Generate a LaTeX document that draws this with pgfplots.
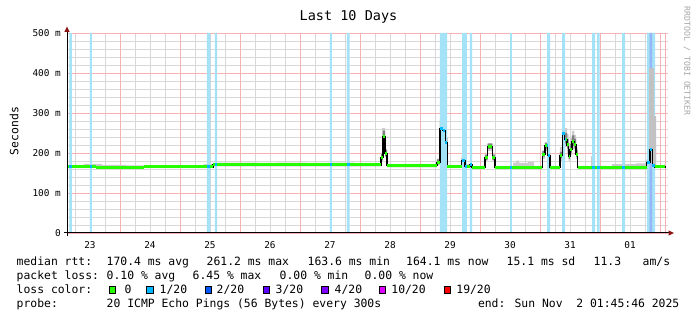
\documentclass[border=0pt]{standalone}
\usepackage{fontspec}
\setmainfont{DejaVu Sans Mono}
\usepackage{pgfplots}
\pgfplotsset{compat=1.18}
\usepgfplotslibrary{fillbetween}
\definecolor{band}{RGB}{164,226,248}
\definecolor{bandtwo}{RGB}{150,180,246}
\definecolor{gridminor}{RGB}{216,216,216}
\definecolor{gridmajor}{RGB}{244,178,178}
\definecolor{lossA}{RGB}{38,255,0}
\definecolor{lossB}{RGB}{0,184,255}
\definecolor{lossC}{RGB}{0,89,255}
\definecolor{lossD}{RGB}{94,0,255}
\definecolor{lossE}{RGB}{126,0,255}
\definecolor{lossF}{RGB}{221,0,255}
\definecolor{lossG}{RGB}{255,0,0}
\definecolor{arrowred}{RGB}{140,20,20}
\begin{document}
\begin{tikzpicture}[x=1pt,y=1pt,
  lg/.style={anchor=base west, inner sep=0pt, font=\fontsize{11.4}{13}\selectfont}]
\path (0,0) rectangle (697,321);
\begin{axis}[
  at={(67pt,88pt)}, anchor=south west,
  scale only axis, width=601pt, height=200pt,
  xmin=22.617, xmax=32.633, ymin=0, ymax=500,
  axis line style={draw=none},
  major tick length=0pt, minor tick length=0pt,
  xtick={23,24,25,26,27,28,29,30,31,32},
  xticklabels={23,24,25,26,27,28,29,30,31,01},
  minor xtick={22.75,23,...,32.5},
  extra x ticks={23.5,24.5,25.5,26.5,27.5,28.5,29.5,30.5,31.5,32.5,32.583},
  extra x tick labels={},
  extra x tick style={grid=major},
  xmajorgrids=false, xminorgrids=true,
  ytick={0,100,200,300,400,500},
  yticklabels={0,100 m,200 m,300 m,400 m,500 m},
  minor ytick={20,40,...,480},
  ymajorgrids=true, yminorgrids=true,
  major grid style={gridmajor, line width=0.85pt},
  minor grid style={gridminor, line width=0.85pt},
  tick label style={font=\fontsize{9.4}{11}\selectfont},
  yticklabel style={anchor=east, inner sep=0pt, xshift=-6pt},
  xticklabel style={anchor=north, inner sep=0pt, yshift=-8.7pt},
]
% loss bands
\addplot[const plot mark left, fill=band, draw=none] coordinates {
(22.617,0)(22.658,500)(22.70,0)(23.0,500)(23.033,0)(24.95,500)(25.008,0)(25.083,500)(25.117,0)
(27.0,500)(27.033,0)(27.283,500)(27.325,0)(28.833,500)(28.95,0)(29.2,500)(29.283,0)(29.333,500)(29.367,0)
(30.0,500)(30.033,0)(30.617,500)(30.667,0)(30.867,500)(30.917,0)(31.367,500)(31.417,0)(31.45,500)(31.492,0)
(31.867,500)(31.917,0)(32.283,500)(32.417,0)(32.583,0)} \closedcycle;
\addplot[const plot mark left, fill=bandtwo, draw=none] coordinates {
(32.322,0)(32.325,500)(32.367,0)(32.4,0)} \closedcycle;
% light smoke
\addplot[const plot mark left, draw=none, name path=uA] coordinates {
(22.617,170)(22.9,173)(23.2,170)(23.6,169)(24.0,168)(24.4,169)(24.9,172)(25.05,176)(25.5,176)(25.8,175)(26.1,176)(26.6,175)(27.0,176)(27.4,174)
(27.85,200)(27.867,262)(27.917,210)(27.95,172)(28.3,173)(28.6,172)(28.783,186)(28.833,287)(28.9,272)(28.922,240)(28.955,170)
(29.195,195)(29.25,172)(29.367,168)(29.583,196)(29.628,222)(29.705,196)(29.75,168)(30.05,176)(30.1,181)(30.15,175)(30.3,178)(30.4,168)
(30.538,206)(30.583,226)(30.628,202)(30.667,168)(30.833,215)(30.872,272)(30.912,262)(30.95,248)(30.978,225)(31.0,238)(31.033,255)(31.072,245)(31.1,214)(31.128,168)
(31.35,192)(31.383,168)(31.7,172)(32.1,174)(32.278,186)(32.317,215)(32.433,168)(32.583,168)};
\addplot[const plot mark left, draw=none, name path=lA] coordinates {
(22.617,162)(25.05,167)(27.85,180)(27.883,225)(27.917,190)(27.95,164)(28.783,170)(28.833,240)(28.878,235)(28.922,205)(28.955,162)
(29.195,170)(29.25,162)(29.583,180)(29.628,205)(29.705,180)(29.75,161)(30.538,185)(30.583,205)(30.628,185)(30.667,161)
(30.833,180)(30.872,225)(30.912,215)(30.95,200)(30.978,180)(31.0,195)(31.033,210)(31.072,205)(31.1,185)(31.128,161)
(32.278,168)(32.333,190)(32.372,162)(32.583,161)};
\addplot[fill=black!20, draw=none] fill between[of=uA and lA];
% tall smoke bar near the end
\addplot[fill=black!24, draw=none] coordinates {
(32.317,175)(32.317,412)(32.4,412)(32.4,292)(32.433,292)(32.433,172)} -- cycle;
% dark smoke
\addplot[const plot mark left, draw=none, name path=uB] coordinates {
(22.617,166)(27.85,198)(27.883,256)(27.917,208)(27.95,168)(28.783,184)(28.833,280)(28.878,270)(28.922,238)(28.955,166)
(29.195,188)(29.25,166)(29.583,196)(29.628,224)(29.705,196)(29.75,164)(30.538,205)(30.583,226)(30.628,201)(30.667,164)
(30.833,203)(30.872,266)(30.912,250)(30.95,235)(30.978,205)(31.0,222)(31.033,244)(31.072,236)(31.1,207)(31.128,164)
(32.278,182)(32.333,218)(32.372,172)(32.417,164)(32.583,164)};
\addplot[const plot mark left, draw=none, name path=lB] coordinates {
(22.617,166)(27.85,182)(27.883,230)(27.917,192)(27.95,168)(28.783,172)(28.833,250)(28.878,246)(28.922,218)(28.955,166)
(29.195,176)(29.25,166)(29.583,183)(29.628,210)(29.705,183)(29.75,164)(30.538,191)(30.583,211)(30.628,187)(30.667,164)
(30.833,187)(30.872,238)(30.912,224)(30.95,211)(30.978,185)(31.0,201)(31.033,218)(31.072,212)(31.1,190)(31.128,164)
(32.278,172)(32.333,200)(32.372,164)(32.417,164)(32.583,164)};
\addplot[fill=black!50, draw=none] fill between[of=uB and lB];
% median: black steps
\addplot[const plot mark left, black, line width=1.1pt] coordinates {
(22.617,166)(23.1,164)(23.9,165)(25.05,171.5)(26.3,171)(27.3,170)(27.85,188)(27.883,241)(27.917,198)(27.95,168)
(28.783,176)(28.833,262)(28.878,257)(28.922,227)(28.955,166)(29.195,180)(29.25,166)(29.333,170)(29.367,164)
(29.583,188)(29.628,216)(29.705,188)(29.75,164)(30.538,197)(30.583,217.5)(30.628,193)(30.667,164)
(30.833,193)(30.872,249)(30.912,234)(30.95,220)(30.978,191)(31.0,209)(31.033,228)(31.072,222)(31.1,197)(31.128,164)
(32.278,176)(32.333,207.5)(32.372,168)(32.417,165)(32.583,164)};
% median: green segments
\addplot[jump mark left, lossA, line width=3pt] coordinates {
(22.617,166)(23.1,164)(23.9,165)(25.05,171.5)(26.3,171)(27.3,170)(27.85,188)(27.883,241)(27.917,198)(27.95,168)
(28.783,176)(28.833,262)(28.878,257)(28.922,227)(28.955,166)(29.195,180)(29.25,166)(29.333,170)(29.367,164)
(29.583,188)(29.628,216)(29.705,188)(29.75,164)(30.538,197)(30.583,217.5)(30.628,193)(30.667,164)
(30.833,193)(30.872,249)(30.912,234)(30.95,220)(30.978,191)(31.0,209)(31.033,228)(31.072,222)(31.1,197)(31.128,164)
(32.278,176)(32.333,207.5)(32.372,168)(32.417,165)(32.583,164)};
% median: blue (loss) segments
\addplot[lossB, line width=3pt, unbounded coords=jump] coordinates {
(22.658,166)(22.70,166)(22.70,nan)
(23.0,166)(23.033,166)(23.033,nan)
(24.95,165)(25.008,165)(25.008,nan)
(25.083,171.5)(25.117,171.5)(25.117,nan)
(27.0,171)(27.033,171)(27.033,nan)
(27.283,171)(27.325,171)(27.325,nan)
(28.833,262)(28.878,262)(28.878,nan)
(28.878,257)(28.922,257)(28.922,nan)
(28.922,227)(28.95,227)(28.95,nan)
(29.2,180)(29.25,180)(29.25,nan)
(29.25,166)(29.283,166)(29.283,nan)
(29.333,170)(29.367,170)(29.367,nan)
(30.0,164)(30.033,164)(30.033,nan)
(30.617,217.5)(30.628,217.5)(30.628,nan)
(30.628,193)(30.667,193)(30.667,nan)
(30.872,249)(30.912,249)(30.912,nan)
(30.912,234)(30.917,234)(30.917,nan)
(31.367,164)(31.417,164)(31.417,nan)
(31.45,164)(31.492,164)(31.492,nan)
(31.867,164)(31.917,164)(31.917,nan)
(32.283,176)(32.333,176)(32.333,nan)
(32.333,207.5)(32.372,207.5)(32.372,nan)
(32.372,168)(32.417,168)};
\end{axis}
% axes
\draw[black, line width=1pt] (67,85) -- (67,290);
\fill[arrowred] (64.3,289) -- (69.7,289) -- (67,294.5) -- cycle;
\draw[black, line width=1pt] (64,88) -- (669,88);
\fill[arrowred] (668.5,85.3) -- (668.5,90.7) -- (674,88) -- cycle;
% title and labels
\node[anchor=base, inner sep=0pt, font=\fontsize{13.5}{15}\selectfont] at (348.5,300) {Last 10 Days};
\node[rotate=90, anchor=base, inner sep=0pt, font=\fontsize{11.4}{13}\selectfont] at (18.3,190) {Seconds};
\node[rotate=-90, anchor=base, inner sep=0pt, text=black!35, font=\fontsize{8.2}{10}\selectfont] at (684.3,259.7) {RRDTOOL / TOBI OETIKER};
% legend row 1
\node[lg] at (16.5,55) {median rtt:};
\node[lg] at (106.5,55) {170.4 ms avg};
\node[lg] at (206.5,55) {261.2 ms max};
\node[lg] at (307.5,55) {163.6 ms min};
\node[lg] at (406,55) {164.1 ms now};
\node[lg] at (506.5,55) {15.1 ms sd};
\node[lg] at (593.5,55) {11.3};
\node[lg] at (642.5,55) {am/s};
% legend row 2
\node[lg] at (16.5,41.5) {packet loss:};
\node[lg] at (106.5,41.5) {0.10 \% avg};
\node[lg] at (192.5,41.5) {6.45 \% max};
\node[lg] at (279.5,41.5) {0.00 \% min};
\node[lg] at (364.5,41.5) {0.00 \% now};
% legend row 3
\node[lg] at (16.5,27.7) {loss color:};
\foreach \bx/\lx/\c/\t in {109.5/124.5/lossA/0, 146.7/159.5/lossB/1\slash 20, 205/216.5/lossC/2\slash 20, 263.3/275.5/lossD/3\slash 20, 321.7/334.5/lossE/4\slash 20, 379.3/391.2/lossF/10\slash 20, 444.3/456.2/lossG/19\slash 20} {
  \filldraw[fill=\c, draw=black, line width=0.7pt] (\bx,28) rectangle ++(6.3,6.3);
  \node[lg] at (\lx,27.7) {\t};
}
% legend row 4
\node[lg] at (16.5,13.5) {probe:};
\node[lg] at (106.5,13.5) {20 ICMP Echo Pings (56 Bytes) every 300s};
\node[lg] at (477.8,13.5) {end: Sun Nov~~2 01:45:46 2025};
\end{tikzpicture}
\end{document}
